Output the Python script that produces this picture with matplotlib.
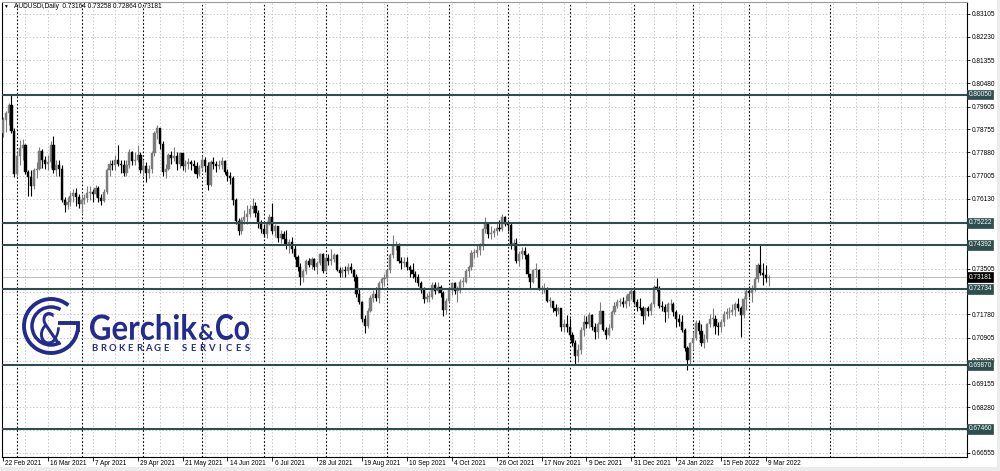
import matplotlib
matplotlib.use("Agg")
import matplotlib.pyplot as plt
import numpy as np
from matplotlib.textpath import TextPath
from matplotlib.patches import PathPatch, Arc, Rectangle
from matplotlib.font_manager import FontProperties
from matplotlib.transforms import Affine2D

# ---------------- data ----------------
first_open = 0.7860
closes = [
 0.7910,0.7935,0.7965,0.7870,0.7705,
 0.7775,0.7805,0.7815,0.7715,0.7695,0.7660,0.7720,0.7725,0.7795,0.7760,0.7745,0.7750,0.7815,0.7720,0.7740,0.7725,0.7610,0.7590,0.7600,0.7625,0.7635,0.7620,0.7595,
 0.7610,0.7615,0.7635,0.7640,0.7630,0.7655,0.7615,0.7605,0.7640,0.7720,0.7745,0.7740,0.7760,0.7745,0.7740,0.7710,0.7740,0.7790,0.7755,0.7760,0.7780,0.7720,
 0.7735,0.7710,0.7725,0.7785,0.7860,0.7880,0.7820,0.7715,0.7725,0.7780,0.7765,0.7775,0.7745,0.7785,0.7735,0.7745,0.7750,0.7745,0.7735,0.7705,0.7730,
 0.7760,0.7735,0.7665,0.7750,0.7745,0.7735,0.7740,0.7755,0.7715,0.7700,0.7690,0.7610,0.7530,0.7490,0.7535,0.7545,0.7555,0.7575,0.7585,0.7560,0.7525,0.7500,
 0.7480,0.7520,0.7545,0.7490,0.7510,0.7465,0.7480,0.7460,0.7440,0.7450,0.7425,0.7395,0.7355,0.7320,0.7340,0.7380,0.7365,0.7385,0.7355,0.7370,0.7405,0.7340,
 0.7390,0.7380,0.7385,0.7400,0.7345,0.7335,0.7345,0.7340,0.7355,0.7345,0.7320,0.7255,0.7225,0.7160,0.7135,0.7190,0.7240,0.7255,0.7240,0.7295,0.7310,0.7315,
 0.7345,0.7400,0.7435,0.7440,0.7380,0.7370,0.7375,0.7355,0.7345,0.7330,0.7320,0.7295,0.7270,0.7235,0.7245,0.7245,0.7290,0.7265,0.7280,0.7260,0.7195,0.7230,
 0.7270,0.7295,0.7265,0.7270,0.7300,0.7300,0.7340,0.7355,0.7410,0.7410,0.7420,0.7435,0.7500,0.7520,0.7480,0.7485,0.7490,0.7505,0.7500,0.7545,0.7520,
 0.7515,0.7440,0.7445,0.7380,0.7405,0.7415,0.7400,0.7330,0.7300,0.7345,0.7345,0.7275,0.7275,0.7275,0.7230,0.7230,0.7200,0.7190,0.7200,0.7130,0.7140,0.7130,
 0.7100,0.7070,0.7020,0.7045,0.7120,0.7150,0.7140,0.7175,0.7130,0.7110,0.7140,0.7190,0.7120,0.7100,0.7125,0.7185,0.7210,0.7225,0.7225,0.7215,0.7230,0.7255,0.7265,
 0.7225,0.7205,0.7200,0.7170,0.7200,0.7190,0.7215,0.7280,0.7275,0.7210,0.7205,0.7185,0.7215,0.7215,0.7185,0.7160,0.7150,0.7120,0.7050,0.7005,0.7070,
 0.7090,0.7145,0.7115,0.7070,0.7085,0.7140,0.7160,0.7160,0.7135,0.7130,0.7150,0.7180,0.7185,0.7185,0.7195,0.7215,0.7200,0.7175,0.7235,0.7265,
 0.7260,0.7275,0.7310,0.7365,0.7335,0.7325,0.73164,0.73181,
]
highs = [
 0.7920,0.7945,0.7975,0.8007,0.7880,
 0.7790,0.7835,0.7840,0.7820,0.7720,0.7720,0.7730,0.7750,0.7810,0.7800,0.7775,0.7780,0.7830,0.7849,0.7760,0.7760,0.7740,0.7620,0.7620,0.7640,0.7650,0.7655,0.7630,
 0.7630,0.7630,0.7660,0.7660,0.7650,0.7665,0.7660,0.7630,0.7650,0.7730,0.7760,0.7760,0.7780,0.7815,0.7760,0.7760,0.7760,0.7800,0.7795,0.7790,0.7815,0.7790,
 0.7760,0.7750,0.7740,0.7795,0.7870,0.7891,0.7880,0.7830,0.7745,0.7785,0.7795,0.7810,0.7790,0.7790,0.7785,0.7760,0.7765,0.7760,0.7760,0.7750,0.7740,
 0.7775,0.7770,0.7750,0.7760,0.7770,0.7755,0.7760,0.7770,0.7760,0.7725,0.7715,0.7700,0.7615,0.7540,0.7545,0.7570,0.7590,0.7590,0.7616,0.7600,0.7570,0.7535,
 0.7520,0.7530,0.7555,0.7599,0.7520,0.7510,0.7495,0.7490,0.7495,0.7460,0.7470,0.7440,0.7400,0.7370,0.7350,0.7385,0.7390,0.7395,0.7390,0.7380,0.7410,0.7410,
 0.7400,0.7405,0.7425,0.7410,0.7405,0.7355,0.7355,0.7360,0.7370,0.7370,0.7350,0.7330,0.7275,0.7230,0.7175,0.7200,0.7250,0.7270,0.7280,0.7305,0.7320,0.7330,
 0.7350,0.7410,0.7478,0.7455,0.7445,0.7395,0.7395,0.7395,0.7365,0.7370,0.7340,0.7330,0.7305,0.7280,0.7260,0.7265,0.7300,0.7300,0.7300,0.7290,0.7265,0.7240,
 0.7280,0.7300,0.7300,0.7285,0.7310,0.7320,0.7350,0.7365,0.7420,0.7425,0.7440,0.7445,0.7505,0.7545,0.7525,0.7510,0.7505,0.7525,0.7535,0.7556,0.7550,
 0.7535,0.7525,0.7460,0.7465,0.7415,0.7430,0.7430,0.7410,0.7330,0.7350,0.7370,0.7350,0.7290,0.7295,0.7280,0.7245,0.7230,0.7215,0.7205,0.7190,0.7160,0.7175,
 0.7165,0.7110,0.7080,0.7065,0.7130,0.7175,0.7170,0.7185,0.7180,0.7145,0.7150,0.7223,0.7190,0.7130,0.7140,0.7195,0.7225,0.7235,0.7240,0.7245,0.7250,0.7265,0.7277,
 0.7275,0.7235,0.7240,0.7210,0.7205,0.7210,0.7225,0.7290,0.7315,0.7285,0.7230,0.7215,0.7225,0.7235,0.7225,0.7195,0.7180,0.7175,0.7125,0.7060,0.7075,
 0.7110,0.7155,0.7155,0.7140,0.7105,0.7145,0.7180,0.7200,0.7175,0.7150,0.7160,0.7190,0.7200,0.7205,0.7215,0.7225,0.7240,0.7210,0.7245,0.7275,
 0.7285,0.7290,0.7320,0.7370,0.7441,0.7370,0.7365,0.73258,
]
lows = [
 0.7845,0.7865,0.7890,0.7860,0.7695,
 0.7700,0.7740,0.7760,0.7705,0.7622,0.7625,0.7650,0.7690,0.7720,0.7730,0.7725,0.7720,0.7730,0.7710,0.7700,0.7700,0.7600,0.7563,0.7575,0.7585,0.7600,0.7585,0.7580,
 0.7560,0.7595,0.7600,0.7610,0.7600,0.7620,0.7600,0.7590,0.7600,0.7630,0.7700,0.7720,0.7720,0.7735,0.7710,0.7700,0.7700,0.7730,0.7740,0.7740,0.7750,0.7710,
 0.7700,0.7675,0.7690,0.7710,0.7775,0.7840,0.7800,0.7700,0.7690,0.7720,0.7745,0.7755,0.7720,0.7730,0.7720,0.7715,0.7725,0.7720,0.7710,0.7690,0.7700,
 0.7720,0.7715,0.7646,0.7660,0.7725,0.7715,0.7725,0.7725,0.7705,0.7680,0.7670,0.7590,0.7520,0.7477,0.7480,0.7520,0.7520,0.7545,0.7560,0.7545,0.7505,0.7485,
 0.7470,0.7465,0.7515,0.7480,0.7470,0.7450,0.7445,0.7440,0.7425,0.7410,0.7410,0.7385,0.7340,0.7289,0.7300,0.7330,0.7355,0.7350,0.7345,0.7330,0.7365,0.7335,
 0.7340,0.7365,0.7365,0.7375,0.7340,0.7320,0.7320,0.7320,0.7330,0.7335,0.7305,0.7245,0.7215,0.7150,0.7106,0.7125,0.7185,0.7225,0.7230,0.7220,0.7275,0.7285,
 0.7300,0.7335,0.7390,0.7420,0.7370,0.7350,0.7355,0.7345,0.7320,0.7315,0.7300,0.7285,0.7260,0.7220,0.7225,0.7225,0.7235,0.7255,0.7260,0.7245,0.7170,0.7180,
 0.7225,0.7250,0.7255,0.7225,0.7260,0.7280,0.7295,0.7320,0.7345,0.7390,0.7395,0.7400,0.7420,0.7485,0.7465,0.7460,0.7470,0.7475,0.7490,0.7490,0.7510,
 0.7490,0.7425,0.7420,0.7370,0.7360,0.7385,0.7385,0.7320,0.7275,0.7295,0.7320,0.7270,0.7255,0.7260,0.7225,0.7205,0.7185,0.7170,0.7180,0.7115,0.7110,0.7110,
 0.7090,0.7060,0.6992,0.7000,0.7030,0.7095,0.7125,0.7125,0.7120,0.7085,0.7090,0.7140,0.7115,0.7085,0.7095,0.7120,0.7180,0.7200,0.7210,0.7205,0.7200,0.7210,0.7235,
 0.7215,0.7190,0.7195,0.7140,0.7155,0.7170,0.7175,0.7205,0.7265,0.7200,0.7190,0.7150,0.7165,0.7195,0.7170,0.7130,0.7135,0.7110,0.7040,0.6967,0.6990,
 0.7045,0.7080,0.7105,0.7060,0.7050,0.7075,0.7130,0.7130,0.7105,0.7100,0.7110,0.7135,0.7160,0.7165,0.7175,0.7170,0.7190,0.7094,0.7165,0.7195,
 0.7245,0.7225,0.7265,0.7300,0.7325,0.7290,0.7300,0.72864,
]

date_labels = ["22 Feb 2021", "16 Mar 2021", "7 Apr 2021", "29 Apr 2021", "21 May 2021",
               "14 Jun 2021", "6 Jul 2021", "28 Jul 2021", "19 Aug 2021", "10 Sep 2021",
               "4 Oct 2021", "26 Oct 2021", "17 Nov 2021", "9 Dec 2021", "31 Dec 2021",
               "24 Jan 2022", "15 Feb 2022", "9 Mar 2022"]
label_step = 16
month_starts = [5, 28, 50, 71, 93, 115, 137, 159, 180, 202, 225, 246, 266, 295]

price_ticks = [0.83105, 0.82230, 0.81355, 0.80480, 0.79605, 0.78755, 0.77880, 0.77005,
               0.76130, 0.75255, 0.74380, 0.73505, 0.72630, 0.71780, 0.70905, 0.70030,
               0.69155, 0.68280, 0.67405, 0.66555]
hidden_ticks = [0.75255, 0.74380, 0.72630, 0.67405]
levels = [0.80050, 0.75222, 0.74392, 0.72734, 0.69870, 0.67460]
last_price = 0.73181
header = "AUDUSDi,Daily  0.73164 0.73258 0.72864 0.73181"

# ---------------- figure ----------------
W, H = 1000, 471
fig = plt.figure(figsize=(W / 100, H / 100), dpi=100)
fig.patch.set_facecolor("white")
FONT = ["Liberation Sans", "DejaVu Sans"]
FS = 4.7

ax = fig.add_axes([2 / W, (H - 457) / H, 965 / W, 455 / H])
px_per_bar = 2.805
x_left = -1 / px_per_bar
ax.set_xlim(x_left, x_left + 965 / px_per_bar)
ax.set_ylim(0.66404, 0.83546)
ax.set_facecolor("white")

grid_col = "#c9c9c9"
dot = (0, (1.5, 2.0))
for v in price_ticks:
    ax.axhline(v, color=grid_col, lw=0.7, ls=dot, zorder=0)
for i in range(8, 344, 8):
    ax.axvline(i, color=grid_col, lw=0.7, ls=dot, zorder=0)
for m in month_starts:
    ax.axvline(m, color="black", lw=0.8, ls=(0, (1.5, 1.8)), zorder=0.5)

# candles
n = len(closes)
idx = np.arange(n)
opens = np.array([first_open] + closes[:-1])
c = np.array(closes)
hi = np.array(highs)
lo = np.array(lows)
up = c >= opens
up_col, dn_col = "#7c7c7c", "#000000"
cols = np.where(up, up_col, dn_col)
ax.vlines(idx, lo, hi, colors=cols, lw=0.8, zorder=2)
body_lo = np.minimum(opens, c)
body_h = np.maximum(np.abs(c - opens), 0.00022)
ax.bar(idx, body_h, bottom=body_lo, width=0.78, color=cols, edgecolor=cols, lw=0.3, zorder=3)

# levels
lev_col = "#2f4f4f"
for v in levels:
    ax.axhline(v, color=lev_col, lw=1.5, zorder=4)
ax.axhline(last_price, color="#bdbdbd", lw=0.7, zorder=1.5)

# axes styling
for s in ["left", "bottom", "right"]:
    ax.spines[s].set_color("black")
    ax.spines[s].set_linewidth(0.8)
ax.spines["top"].set_color("#9a9a9a")
ax.spines["top"].set_linewidth(0.8)

ax.yaxis.tick_right()
ax.set_yticks(price_ticks)
ax.set_yticklabels(["" if v in hidden_ticks else f"{v:.5f}" for v in price_ticks],
                   fontsize=FS, family=FONT)
ax.tick_params(axis="y", length=2, width=0.6, pad=1.5, colors="black")

tick_pos = [i * label_step for i in range(len(date_labels))]
ax.set_xticks(tick_pos)
ax.set_xticklabels([])
ax.tick_params(axis="x", length=3, width=0.6)
xt = ax.get_xaxis_transform()
for p, lab in zip(tick_pos, date_labels):
    ax.text(p + 0.8, -0.0135, lab, transform=xt, ha="left", va="center",
            fontsize=FS, family=FONT, clip_on=False)

yt = ax.get_yaxis_transform()
for v in levels:
    ax.text(1.0015, v, f"{v:.5f}", transform=yt, ha="left", va="center", fontsize=FS,
            family=FONT, color="white", zorder=10, clip_on=False,
            bbox=dict(boxstyle="square,pad=0.18", fc=lev_col, ec=lev_col, lw=0.5))
ax.text(1.0015, last_price, f"{last_price:.5f}", transform=yt, ha="left", va="center",
        fontsize=FS, family=FONT, color="white", zorder=10, clip_on=False,
        bbox=dict(boxstyle="square,pad=0.18", fc="black", ec="black", lw=0.5))

# ---------------- overlay (frame strips, header, logo) ----------------
ov = fig.add_axes([0, 0, 1, 1], zorder=20)
ov.set_xlim(0, W)
ov.set_ylim(H, 0)
ov.axis("off")
ov.patch.set_alpha(0)
ov.add_patch(Rectangle((0, 467), W, 4, fc="#ececec", ec="none"))
ov.add_patch(Rectangle((997, 0), 3, H, fc="#ececec", ec="none"))

ov.text(3, 6.5, "\u25bc", fontsize=3.5, family=FONT, ha="left", va="center")
ov.text(14, 6.5, header, fontsize=FS, family=FONT, ha="left", va="center")

logo_col = "#232b8e"


def fit_text(s, x0, y0, x1, y1, prop):
    tp = TextPath((0, 0), s, size=10, prop=prop)
    bb = tp.get_extents()
    tr = (Affine2D().translate(-bb.x0, -bb.y0)
          .scale((x1 - x0) / bb.width, -(y1 - y0) / bb.height)
          .translate(x0, y1))
    ov.add_patch(PathPatch(tr.transform_path(tp), fc=logo_col, ec="none", lw=0))


bold = FontProperties(family="Lato", weight="bold")
light = FontProperties(family="DejaVu Sans", weight="normal")

cx, cy = 51, 326
ov.add_patch(Arc((cx, cy), 54, 54, theta1=10, theta2=310, color=logo_col, lw=2.8))
ex = cx + 27 * np.cos(np.radians(10))
ey = cy + 27 * np.sin(np.radians(10))
ov.plot([ex, ex, 58], [ey + 1, 323, 323], color=logo_col, lw=2.8,
        solid_capstyle="butt", solid_joinstyle="miter")
ov.add_patch(Arc((cx, cy), 38, 38, theta1=60, theta2=300, color=logo_col, lw=2.5))
fit_text("&", 40, 312, 61, 345, light)

fit_text("Gerchik", 90, 314, 197, 340, bold)
fit_text("&", 199, 324, 214, 340, bold)
fit_text("Co", 216, 314, 249, 340, bold)

sub = "BROKERAGE SERVICES"
for k, ch in enumerate(sub):
    if ch != " ":
        ov.text(94 + k * 9.0, 348.5, ch, fontsize=6.8, family="Lato", weight="bold",
                color=logo_col, ha="center", va="center")

fig.savefig("out.png", dpi=100, facecolor="white")
